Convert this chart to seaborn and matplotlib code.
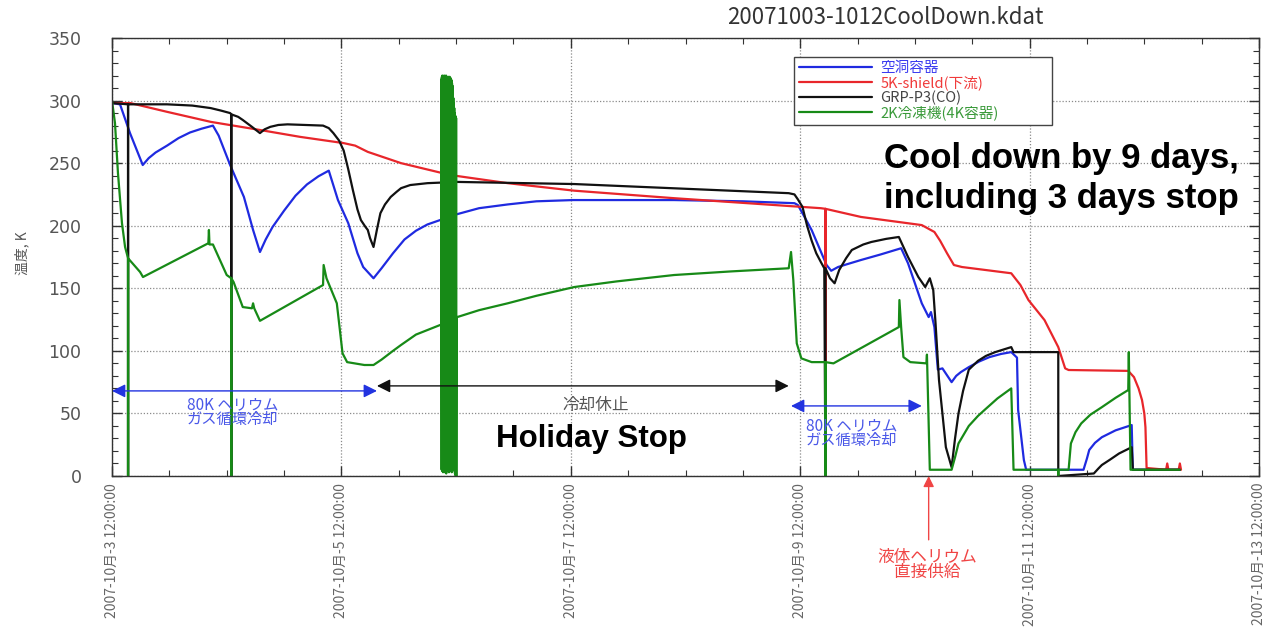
import matplotlib
matplotlib.use("Agg")
import matplotlib.pyplot as plt
import matplotlib.dates as mdates
from matplotlib.ticker import MultipleLocator, FixedLocator
import numpy as np
import pandas as pd
import seaborn as sns

# ---------------- data (time in days after 2007-10-03 12:00) ----------------
series_names = ["空洞容器", "5K-shield(下流)", "GRP-P3(CO)", "2K冷凍機(4K容器)"]
line_colors = ["#1f2ae0", "#e8262b", "#111111", "#178a17"]
text_colors = ["#3b3bf0", "#f03a3a", "#444444", "#3a9a3a"]

blue_t = [0, 0.07, 0.157, 0.268, 0.32, 0.38, 0.48, 0.58, 0.68, 0.78, 0.88, 0.93, 1.03,
          1.15, 1.23, 1.29, 1.34, 1.4, 1.5, 1.6, 1.7, 1.8, 1.89, 1.97, 2.06, 2.14, 2.19,
          2.28, 2.35, 2.45, 2.55, 2.65, 2.75, 2.86, 3.0, 3.2, 3.45, 3.7, 4.02, 4.9, 5.5,
          5.95, 5.98, 6.05, 6.1, 6.23, 6.27, 6.33, 6.4, 6.53, 6.7, 6.88, 6.94, 7.06, 7.12,
          7.14, 7.17, 7.2, 7.24, 7.32, 7.36, 7.4, 7.47, 7.56, 7.65, 7.75, 7.84, 7.89, 7.9,
          7.95, 7.97, 8.47, 8.5, 8.52, 8.57, 8.63, 8.75, 8.89, 8.9, 9.31]
blue_v = [298, 297, 274, 248.5, 254, 258.5, 264, 270, 274.5, 277.5, 280, 272, 248.5,
          223, 196.6, 179, 189, 199, 212, 224, 233, 239.5, 244, 220.5, 202, 178, 167,
          158, 166, 178, 189, 196, 201, 204.5, 209, 214, 217, 219.5, 220.5, 220.5, 219.5,
          218, 216.5, 205, 196.5, 168.6, 164, 167, 169, 172.6, 177, 182, 170, 138, 127,
          131, 119, 85, 86, 75, 80, 83, 87, 91.5, 95, 97.5, 99, 94.6, 52.7,
          12.8, 5, 5, 14, 20.8, 26.5, 31, 36.5, 40.7, 5, 5]

red_t = [0, 0.16, 0.48, 0.86, 1.29, 1.64, 2.02, 2.12, 2.23, 2.52, 2.95, 3.45, 4.03, 4.9,
         6.18, 6.22, 6.22, 6.22, 6.53, 7.06, 7.17, 7.22, 7.28, 7.34, 7.41, 7.84, 7.92, 7.99,
         8.13, 8.25, 8.31, 8.34, 8.86, 8.91, 8.95, 8.98, 9.0, 9.01, 9.02, 9.19, 9.2, 9.21,
         9.3, 9.31, 9.32]
red_v = [298, 298, 291, 283, 276.5, 271, 266, 264, 259, 250, 240.5, 234, 228, 222,
         214, 213.5, 0, 213.5, 207, 200.5, 195, 188, 178, 168.6, 167, 162, 152.6, 140.6,
         124.6, 103, 86, 84.7, 84, 79, 70, 60.7, 50, 39, 6.4, 5, 10, 5,
         5, 10, 5]

black_t = [0, 0.14, 0.14, 0.14, 0.48, 0.7, 0.86, 0.95, 1.03, 1.04, 1.04, 1.04, 1.1, 1.14,
           1.22, 1.29, 1.33, 1.38, 1.45, 1.53, 1.84, 1.89, 1.93, 1.98, 2.02, 2.06, 2.1,
           2.14, 2.17, 2.21, 2.23, 2.25, 2.28, 2.31, 2.34, 2.38, 2.43, 2.48, 2.52, 2.6, 2.75,
           3.01, 4.03, 5.9, 5.95, 5.98, 6.02, 6.06, 6.1, 6.14, 6.18, 6.21, 6.22, 6.22, 6.26,
           6.3, 6.34, 6.4, 6.45, 6.55, 6.62, 6.75, 6.86, 6.94, 7.03, 7.09, 7.13, 7.16, 7.18,
           7.21, 7.27, 7.32, 7.35, 7.38, 7.42, 7.47, 7.55, 7.62, 7.7, 7.84, 7.86, 8.25, 8.25,
           8.56, 8.6, 8.63, 8.7, 8.78, 8.89, 8.9, 9.31]
black_v = [298, 297, 0, 297, 297, 296, 294, 292, 290, 289, 0, 289, 287, 284.5,
           279, 274, 277, 279, 280.5, 281, 280, 278, 274, 268, 260, 245, 228.5,
           213, 204.5, 199, 196.6, 190, 183, 197, 210, 217, 223, 227, 230, 232.5, 234,
           235, 233.3, 226, 225, 221, 215, 200, 188, 178, 171, 166, 0, 166, 158,
           154, 164.6, 174, 180.6, 185, 187, 189.5, 191, 175, 159, 151, 158, 148.6, 122,
           76.7, 23, 7, 30, 50, 68, 85, 92, 96, 99, 103, 99, 99, 0,
           2, 6, 8.8, 13, 18, 23, 5, 5]

green_t = [0, 0.026, 0.052, 0.087, 0.114, 0.14, 0.14, 0.14, 0.245, 0.27, 0.84, 0.845,
           0.85, 0.88, 1.0, 1.04, 1.04, 1.04, 1.06, 1.14, 1.22, 1.23, 1.24, 1.29, 1.84,
           1.845, 1.87, 1.96, 2.01, 2.05, 2.2, 2.28, 2.35, 2.45, 2.52, 2.65, 2.86]
green_v = [300, 282, 242, 202, 183, 174, 0, 174, 163, 159, 186, 196.6,
           185, 185, 160.6, 158, 0, 158, 155, 135, 134, 138, 134, 124, 152.6,
           168.6, 158, 138, 98, 91, 88.7, 88.7, 93, 100, 104.7, 113, 120.7]

# dense oscillation of the 2K refrigerator sensor during the stop
band_t = [2.870, 2.872, 2.874, 2.876, 2.878, 2.880, 2.882, 2.884, 2.886, 2.888, 2.890,
          2.892, 2.894, 2.896, 2.898, 2.900, 2.902, 2.904, 2.906, 2.908, 2.910, 2.912,
          2.914, 2.916, 2.918, 2.920, 2.922, 2.924, 2.926, 2.928, 2.930, 2.932, 2.934,
          2.936, 2.938, 2.940, 2.942, 2.944, 2.946, 2.948, 2.950, 2.952, 2.954, 2.956,
          2.958, 2.960, 2.962, 2.964, 2.966, 2.968, 2.970, 2.972, 2.974, 2.976, 2.978,
          2.980, 2.982, 2.984, 2.986, 2.988, 2.990, 2.992, 2.994, 2.996, 2.998, 3.000,
          3.002, 3.004]
band_v = [121, 317, 5, 319, 4, 320, 6, 318, 3, 317, 7, 319, 4, 320, 5, 318,
          3, 319, 8, 316, 5, 320, 2, 318, 6, 319, 7, 317, 4, 318, 5, 319,
          6, 317, 3, 318, 7, 319, 4, 316, 9, 318, 5, 317, 6, 316, 3, 314,
          8, 312, 10, 308, 12, 302, 6, 298, 15, 294, 4, 290, 2, 288, 1, 287,
          0, 286, 0, 127]

green2_t = [3.01, 3.2, 3.45, 3.7, 4.03, 4.4, 4.9, 5.4, 5.9, 5.92, 5.94, 5.97, 6.01, 6.1,
            6.22, 6.22, 6.22, 6.29, 6.86, 6.865, 6.88, 6.9, 6.96, 7.1, 7.105, 7.13, 7.32,
            7.35, 7.38, 7.47, 7.55, 7.61, 7.72, 7.84, 7.86, 8.25, 8.25, 8.25, 8.34, 8.36,
            8.4, 8.45, 8.53, 8.63, 8.75, 8.86, 8.865, 8.88, 9.31]
green2_v = [127, 132.5, 138, 144, 151, 155.5, 160.6, 163.5, 166, 179, 156.6, 106, 94, 91,
            91, 0, 91, 90, 119, 140.6, 119, 95, 91, 90, 97, 5, 5,
            15, 26, 40, 48, 53, 62, 70, 5, 5, 0, 5, 5, 26,
            35, 42, 49, 55, 62.5, 68.7, 99, 5, 5]

xtick_days = [0, 2, 4, 6, 8, 10]
xtick_labels = ["2007-10月-3 12:00:00", "2007-10月-5 12:00:00", "2007-10月-7 12:00:00",
                "2007-10月-9 12:00:00", "2007-10月-11 12:00:00", "2007-10月-13 12:00:00"]

# ---------------- build table ----------------
base = pd.Timestamp("2007-10-03 12:00")
frames = []
for name, t, v in [(series_names[0], blue_t, blue_v),
                   (series_names[1], red_t, red_v),
                   (series_names[2], black_t, black_v),
                   (series_names[3], green_t + band_t + green2_t, green_v + band_v + green2_v)]:
    frames.append(pd.DataFrame({"time": base + pd.to_timedelta(t, unit="D"),
                                "temp": v, "series": name}))
df = pd.concat(frames, ignore_index=True)


def dnum(day):
    return mdates.date2num(base + pd.Timedelta(days=day))


sns.set_style("ticks")
plt.rcParams["font.family"] = ["Noto Sans CJK JP", "DejaVu Sans"]

W, H = 1270, 627
fig = plt.figure(figsize=(12.7, 6.27), dpi=100)
ax = fig.add_axes([112 / W, 1 - 476 / H, (1259 - 112) / W, (476 - 38) / H])

sns.lineplot(data=df, x="time", y="temp", hue="series", hue_order=series_names,
             palette=line_colors, estimator=None, sort=False, errorbar=None,
             linewidth=1.6, ax=ax)

ax.set_xlim(dnum(0), dnum(10))
ax.set_ylim(0, 350)
ax.set_xlabel("")
ax.set_ylabel("")

ax.xaxis.set_major_locator(FixedLocator([dnum(d) for d in xtick_days]))
ax.xaxis.set_minor_locator(MultipleLocator(0.5))
ax.set_xticklabels(xtick_labels, rotation=90, color="#666666", fontsize=10,
                   family=["Noto Sans CJK JP", "DejaVu Sans"])
ax.yaxis.set_major_locator(MultipleLocator(50))
ax.yaxis.set_minor_locator(MultipleLocator(10))
for lab in ax.get_yticklabels():
    lab.set_family("DejaVu Sans")
    lab.set_fontsize(12.5)
    lab.set_color("#555555")
ax.tick_params(which="both", direction="in", top=True, right=True, color="#333333")
ax.tick_params(which="major", length=7, width=1)
ax.tick_params(which="minor", length=4, width=0.8)
ax.tick_params(axis="y", which="major", pad=22)
ax.tick_params(axis="x", which="major", pad=5)
for lab in ax.get_yticklabels():
    lab.set_horizontalalignment("right")
ax.grid(True, which="major", linestyle=(0, (1, 1.5)), color="#8a8a8a", linewidth=0.9)
for s in ax.spines.values():
    s.set_color("#333333")
    s.set_linewidth(1.0)

# legend
handles, labels = ax.get_legend_handles_labels()
leg = ax.legend(handles, labels, loc="upper left",
                bbox_to_anchor=(0.595, 0.801, 0.2245, 0.156), mode="expand",
                borderaxespad=0, frameon=True, fancybox=False, framealpha=1,
                edgecolor="#444444", labelspacing=0.02,
                handlelength=5.0, handletextpad=0.6, borderpad=0.3,
                prop={"family": ["Noto Sans CJK JP", "DejaVu Sans"], "size": 10.5})
leg.get_frame().set_linewidth(1.0)
for txt, c in zip(leg.get_texts(), text_colors):
    txt.set_color(c)
for ln in leg.get_lines():
    ln.set_linewidth(1.6)

# annotations inside the axes
blue_txt = "#4a58e8"
ax.annotate("", xy=(dnum(2.31), 68), xytext=(dnum(0.0), 68),
            arrowprops=dict(arrowstyle="<|-|>", color="#2233e0", lw=1.0,
                            mutation_scale=20, shrinkA=0, shrinkB=0))
ax.text(dnum(1.05), 51, "80K ヘリウム\nガス循環冷却", color=blue_txt, fontsize=11,
        ha="center", va="center", multialignment="center", linespacing=0.85)

ax.annotate("", xy=(dnum(5.9), 72), xytext=(dnum(2.31), 72),
            arrowprops=dict(arrowstyle="<|-|>", color="#111111", lw=1.0,
                            mutation_scale=20, shrinkA=0, shrinkB=0))
ax.text(dnum(4.22), 56.7, "冷却休止", color="#555555", fontsize=12, ha="center", va="center")

ax.annotate("", xy=(dnum(7.06), 56), xytext=(dnum(5.92), 56),
            arrowprops=dict(arrowstyle="<|-|>", color="#2233e0", lw=1.0,
                            mutation_scale=20, shrinkA=0, shrinkB=0))
ax.text(dnum(6.45), 34, "80K ヘリウム\nガス循環冷却", color=blue_txt, fontsize=11,
        ha="center", va="center", multialignment="center", linespacing=0.85)

bold = ["Liberation Sans", "DejaVu Sans"]
ax.text(dnum(3.345), 23.2, "Holiday Stop", fontsize=22.5, fontweight="bold",
        family=bold, color="black", ha="left", va="baseline")
ax.text(dnum(6.73), 246, "Cool down by 9 days,", fontsize=25, fontweight="bold",
        family=bold, color="black", ha="left", va="baseline")
ax.text(dnum(6.73), 214, "including 3 days stop", fontsize=25, fontweight="bold",
        family=bold, color="black", ha="left", va="baseline")

# red arrow below the axis
ax.annotate("", xy=(dnum(7.12), 0), xytext=(dnum(7.12), -51),
            annotation_clip=False,
            arrowprops=dict(arrowstyle="-|>", color="#f04545", lw=1.0,
                            mutation_scale=16, shrinkA=0, shrinkB=0))
fig.text(927 / W, 1 - 565 / H, "液体ヘリウム\n直接供給", color="#f04545", fontsize=12,
         ha="center", va="center", multialignment="center", linespacing=0.85)

# title and y label
fig.text(727 / W, 1 - 17 / H, "20071003-1012CoolDown.kdat", fontsize=16,
         color="#333333", ha="left", va="center")
fig.text(22 / W, 1 - 253 / H, "温度, K", rotation=90, fontsize=10, color="#555555",
         ha="center", va="center")

fig.savefig("out.png", dpi=100)
